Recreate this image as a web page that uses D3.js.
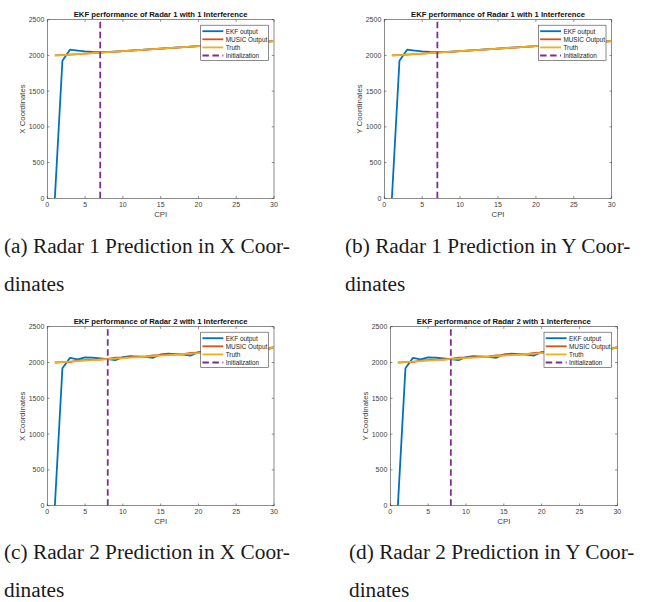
<!DOCTYPE html>
<html>
<head>
<meta charset="utf-8">
<script src="https://cdn.jsdelivr.net/npm/d3@7"></script>
<style>
  body { margin: 0; background: #fff; }
  svg text { font-family: "Liberation Sans", Arial, sans-serif; }
  .caption { font-family: "Liberation Serif", "Times New Roman", serif; font-size: 21.3px; fill: #1a1a1a; }
</style>
</head>
<body>
<div id="chart"></div>
<script>
var cpi = d3.range(1, 31);

// radar 1 (panels a, b)
var truth1X = [2000, 2005, 2012, 2019, 2026, 2033, 2040, 2047, 2054, 2061, 2068, 2075, 2082, 2089, 2096, 2103, 2110, 2117, 2124, 2131, 2138, 2145, 2152, 2159, 2166, 2173, 2180, 2187, 2194, 2202];
var ekf1X   = [0, 1925, 2080, 2068, 2056, 2049, 2046, 2048, 2054, 2061, 2068, 2075, 2082, 2089, 2096, 2103, 2110, 2117, 2124, 2131, 2138, 2145, 2152, 2159, 2166, 2173, 2180, 2187, 2194, 2202];
var music1X = truth1X.slice();
var truth1Y = [2000, 2005, 2012, 2019, 2026, 2033, 2040, 2047, 2054, 2061, 2068, 2075, 2082, 2089, 2096, 2103, 2110, 2117, 2124, 2131, 2138, 2145, 2152, 2159, 2166, 2173, 2180, 2187, 2194, 2202];
var ekf1Y   = [0, 1925, 2080, 2068, 2056, 2049, 2046, 2048, 2054, 2061, 2068, 2075, 2082, 2089, 2096, 2103, 2110, 2117, 2124, 2131, 2138, 2145, 2152, 2159, 2166, 2173, 2180, 2187, 2194, 2202];
var music1Y = truth1Y.slice();

// radar 2 (panels c, d)
var truth2X = [2000, 2006, 2013, 2020, 2027, 2034, 2041, 2048, 2055, 2062, 2069, 2076, 2083, 2090, 2097, 2104, 2111, 2118, 2125, 2132, 2139, 2146, 2153, 2160, 2167, 2174, 2181, 2188, 2196, 2205];
var ekf2X   = [0, 1920, 2065, 2042, 2070, 2067, 2056, 2046, 2032, 2076, 2088, 2083, 2078, 2066, 2112, 2122, 2118, 2110, 2098, 2145, 2150, 2158, 2165, 2170, 2177, 2184, 2190, 2196, 2182, 2210];
var music2X = [2000, 2004, 2004, 2030, 2034, 2040, 2042, 2052, 2068, 2068, 2076, 2081, 2086, 2100, 2104, 2110, 2112, 2116, 2134, 2138, 2143, 2150, 2156, 2162, 2170, 2176, 2183, 2190, 2200, 2212];
var truth2Y = [2000, 2006, 2013, 2020, 2027, 2034, 2041, 2048, 2055, 2062, 2069, 2076, 2083, 2090, 2097, 2104, 2111, 2118, 2125, 2132, 2139, 2146, 2153, 2160, 2167, 2174, 2181, 2188, 2196, 2205];
var ekf2Y   = [0, 1920, 2065, 2042, 2070, 2067, 2056, 2046, 2032, 2076, 2088, 2083, 2078, 2066, 2112, 2122, 2118, 2110, 2098, 2145, 2150, 2158, 2165, 2170, 2177, 2184, 2190, 2196, 2182, 2210];
var music2Y = [2000, 2004, 2004, 2030, 2034, 2040, 2042, 2052, 2068, 2068, 2076, 2081, 2086, 2100, 2104, 2110, 2112, 2116, 2134, 2138, 2143, 2150, 2156, 2162, 2170, 2176, 2183, 2190, 2200, 2212];

var xTicks = [0, 5, 10, 15, 20, 25, 30];
var yTicks = [0, 500, 1000, 1500, 2000, 2500];
var legendNames = ['EKF output', 'MUSIC Output', 'Truth', 'Initialization'];
var colors = ['#0072BD', '#D95319', '#EDB120', '#7E2F8E'];

var panels = [
  {title: 'EKF performance of Radar 1 with 1 Interference', ylab: 'X Coordinates', ekf: ekf1X, music: music1X, truth: truth1X, init: 7,
   box: [47.3, 19.7, 274, 198.3], caption: ['(a) Radar 1 Prediction in X Coor-', 'dinates'], cx: 4, cy: 253},
  {title: 'EKF performance of Radar 1 with 1 Interference', ylab: 'Y Coordinates', ekf: ekf1Y, music: music1Y, truth: truth1Y, init: 7,
   box: [384.3, 19.7, 611.7, 198.3], caption: ['(b) Radar 1 Prediction in Y Coor-', 'dinates'], cx: 345, cy: 253},
  {title: 'EKF performance of Radar 2 with 1 Interference', ylab: 'X Coordinates', ekf: ekf2X, music: music2X, truth: truth2X, init: 8,
   box: [47.3, 326.7, 274, 505.7], caption: ['(c) Radar 2 Prediction in X Coor-', 'dinates'], cx: 4, cy: 559},
  {title: 'EKF performance of Radar 2 with 1 Interference', ylab: 'Y Coordinates', ekf: ekf2Y, music: music2Y, truth: truth2Y, init: 8,
   box: [390.3, 326.7, 617.3, 505.7], caption: ['(d) Radar 2 Prediction in Y Coor-', 'dinates'], cx: 349, cy: 559}
];

var svg = d3.select('#chart').append('svg')
  .attr('width', 651)
  .attr('height', 602);

var axisCol = '#404040';

panels.forEach(function(p, i) {
  var x0 = p.box[0], y0 = p.box[1], x1 = p.box[2], y1 = p.box[3];
  var x = d3.scaleLinear().domain([0, 30]).range([x0, x1]);
  var y = d3.scaleLinear().domain([0, 2500]).range([y1, y0]);

  var g = svg.append('g');

  svg.append('clipPath').attr('id', 'clip' + i)
    .append('rect').attr('x', x0).attr('y', y0).attr('width', x1 - x0).attr('height', y1 - y0);

  // box and inward ticks on all four sides
  g.append('rect')
    .attr('x', x0).attr('y', y0).attr('width', x1 - x0).attr('height', y1 - y0)
    .attr('fill', 'white').attr('stroke', axisCol).attr('stroke-width', 0.6);

  xTicks.forEach(function(t) {
    g.append('line').attr('x1', x(t)).attr('x2', x(t)).attr('y1', y1).attr('y2', y1 - 2.2)
      .attr('stroke', axisCol).attr('stroke-width', 0.6);
    g.append('line').attr('x1', x(t)).attr('x2', x(t)).attr('y1', y0).attr('y2', y0 + 2.2)
      .attr('stroke', axisCol).attr('stroke-width', 0.6);
    g.append('text').attr('x', x(t)).attr('y', y1 + 8.5)
      .attr('text-anchor', 'middle').attr('font-size', 7).attr('fill', axisCol).text(t);
  });
  yTicks.forEach(function(t) {
    g.append('line').attr('x1', x0).attr('x2', x0 + 2.2).attr('y1', y(t)).attr('y2', y(t))
      .attr('stroke', axisCol).attr('stroke-width', 0.6);
    g.append('line').attr('x1', x1).attr('x2', x1 - 2.2).attr('y1', y(t)).attr('y2', y(t))
      .attr('stroke', axisCol).attr('stroke-width', 0.6);
    g.append('text').attr('x', x0 - 3).attr('y', y(t) + 2.5)
      .attr('text-anchor', 'end').attr('font-size', 7).attr('fill', axisCol).text(t);
  });

  g.append('text').attr('x', (x0 + x1) / 2).attr('y', y1 + 18.5)
    .attr('text-anchor', 'middle').attr('font-size', 7.8).attr('fill', axisCol).text('CPI');
  g.append('text')
    .attr('transform', 'translate(' + (x0 - 22) + ',' + ((y0 + y1) / 2) + ') rotate(-90)')
    .attr('text-anchor', 'middle').attr('font-size', 7.8).attr('fill', axisCol).text(p.ylab);
  g.append('text').attr('x', (x0 + x1) / 2).attr('y', y0 - 2.5)
    .attr('text-anchor', 'middle').attr('font-size', 7.7).attr('font-weight', 'bold')
    .attr('fill', '#111').text(p.title);

  var line = d3.line().x(function(d, j) { return x(cpi[j]); }).y(function(d) { return y(d); });
  var plot = g.append('g').attr('clip-path', 'url(#clip' + i + ')');
  [p.ekf, p.music, p.truth].forEach(function(s, k) {
    plot.append('path').datum(s).attr('d', line)
      .attr('fill', 'none').attr('stroke', colors[k]).attr('stroke-width', 1.8)
      .attr('stroke-linejoin', 'round');
  });
  plot.append('line')
    .attr('x1', x(p.init)).attr('x2', x(p.init)).attr('y1', y(0)).attr('y2', y(2500))
    .attr('stroke', colors[3]).attr('stroke-width', 1.8).attr('stroke-dasharray', '6.5,3.5');

  // legend
  var lx = x1 - 73.3, ly = y0 + 5.5, lw = 67.6, lh = 35.3;
  var leg = g.append('g');
  leg.append('rect').attr('x', lx).attr('y', ly).attr('width', lw).attr('height', lh)
    .attr('fill', 'white').attr('stroke', axisCol).attr('stroke-width', 0.6);
  legendNames.forEach(function(n, k) {
    var ry = ly + 6 + k * 8.1;
    leg.append('line').attr('x1', lx + 1.7).attr('x2', lx + 22.6).attr('y1', ry).attr('y2', ry)
      .attr('stroke', colors[k]).attr('stroke-width', 1.8)
      .attr('stroke-dasharray', k === 3 ? '6.5,3.5' : null);
    leg.append('text').attr('x', lx + 25).attr('y', ry + 2.4)
      .attr('font-size', 6.4).attr('fill', '#222').text(n);
  });

  svg.append('text').attr('class', 'caption').attr('x', p.cx).attr('y', p.cy).text(p.caption[0]);
  svg.append('text').attr('class', 'caption').attr('x', p.cx).attr('y', p.cy + 38).text(p.caption[1]);
});
</script>
</body>
</html>
